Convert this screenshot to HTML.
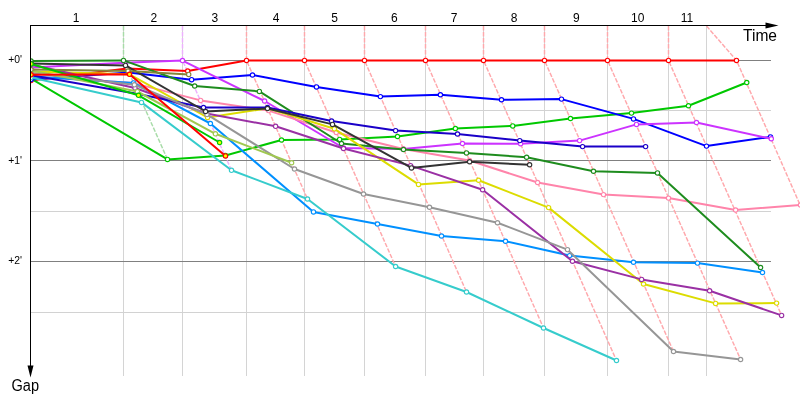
<!DOCTYPE html>
<html><head><meta charset="utf-8"><title>Gap chart</title>
<style>
html,body{margin:0;padding:0;background:#fff;}
svg{display:block;font-family:"Liberation Sans",sans-serif;}
.ln{fill:none;stroke-width:2;stroke-linejoin:round;stroke-linecap:round;}
.mk{fill:#fff;stroke-width:1.15;}
.ds{fill:none;stroke-width:1.45;stroke-dasharray:4.5 1.5;}
</style></head><body>
<svg width="800" height="400" viewBox="0 0 800 400">
<rect width="800" height="400" fill="#fff"/>
<defs><clipPath id="cp"><rect x="31" y="20" width="780" height="380"/></clipPath></defs>

<g shape-rendering="crispEdges" stroke-width="1">
<line x1="123.5" y1="26" x2="123.5" y2="376" stroke="#d4d4d4"/>
<line x1="182.5" y1="26" x2="182.5" y2="376" stroke="#d4d4d4"/>
<line x1="246.5" y1="26" x2="246.5" y2="376" stroke="#d4d4d4"/>
<line x1="304.5" y1="26" x2="304.5" y2="376" stroke="#d4d4d4"/>
<line x1="364.5" y1="26" x2="364.5" y2="376" stroke="#d4d4d4"/>
<line x1="425.5" y1="26" x2="425.5" y2="376" stroke="#d4d4d4"/>
<line x1="483.5" y1="26" x2="483.5" y2="376" stroke="#d4d4d4"/>
<line x1="544.5" y1="26" x2="544.5" y2="376" stroke="#d4d4d4"/>
<line x1="607.5" y1="26" x2="607.5" y2="376" stroke="#d4d4d4"/>
<line x1="668.5" y1="26" x2="668.5" y2="376" stroke="#d4d4d4"/>
<line x1="706.5" y1="26" x2="706.5" y2="376" stroke="#d4d4d4"/>
<line x1="31" y1="60.5" x2="771" y2="60.5" stroke="#808080"/>
<line x1="31" y1="110.5" x2="771" y2="110.5" stroke="#d2d2d2"/>
<line x1="31" y1="160.5" x2="771" y2="160.5" stroke="#808080"/>
<line x1="31" y1="211.5" x2="771" y2="211.5" stroke="#d2d2d2"/>
<line x1="31" y1="261.5" x2="771" y2="261.5" stroke="#808080"/>
<line x1="31" y1="312" x2="771" y2="312" stroke="#d2d2d2"/>
</g>
<g clip-path="url(#cp)">
<polyline class="ds" stroke="#a8dca8" points="123.5,26 123.5,60.4 167.5,159.4"/>
<polyline class="ds" stroke="#eeb0ff" points="182.5,26 182.5,60.4 231.5,170.3"/>
<polyline class="ds" stroke="#ffa8ac" points="246.5,26 246.5,60.4 307.5,199"/>
<polyline class="ds" stroke="#ffa8ac" points="304.5,26 304.5,60.4 395.6,266.5"/>
<polyline class="ds" stroke="#ffa8ac" points="364.5,26 364.5,60.4 466.5,292"/>
<polyline class="ds" stroke="#ffa8ac" points="425.5,26 425.5,60.4 543.5,328"/>
<polyline class="ds" stroke="#ffa8ac" points="483.5,26 483.5,60.4 616.5,360.5"/>
<polyline class="ds" stroke="#ffa8ac" points="544.5,26 544.5,60.4 673.5,351.5"/>
<polyline class="ds" stroke="#ffa8ac" points="607.5,26 607.5,60.4 740.6,359.5"/>
<polyline class="ds" stroke="#ffa8ac" points="668.5,26 668.5,60.4 781.6,315.4"/>
<polyline class="ds" stroke="#ffa8ac" points="706.5,26 736.5,60.4 806.9,220.4"/>
<g stroke="#ff0000"><polyline class="ln" points="31,80.5 127,68.5 187.7,71 246.5,60.4 304.5,60.4 364.5,60.4 425.5,60.4 483.5,60.4 544.5,60.4 607.5,60.4 668.5,60.4 736.5,60.4"/>
<circle class="mk" cx="31" cy="80.5" r="2.15"/>
<circle class="mk" cx="127" cy="68.5" r="2.15"/>
<circle class="mk" cx="187.7" cy="71" r="2.15"/>
<circle class="mk" cx="246.5" cy="60.4" r="2.15"/>
<circle class="mk" cx="304.5" cy="60.4" r="2.15"/>
<circle class="mk" cx="364.5" cy="60.4" r="2.15"/>
<circle class="mk" cx="425.5" cy="60.4" r="2.15"/>
<circle class="mk" cx="483.5" cy="60.4" r="2.15"/>
<circle class="mk" cx="544.5" cy="60.4" r="2.15"/>
<circle class="mk" cx="607.5" cy="60.4" r="2.15"/>
<circle class="mk" cx="668.5" cy="60.4" r="2.15"/>
<circle class="mk" cx="736.5" cy="60.4" r="2.15"/>
</g>
<g stroke="#00c800"><polyline class="ln" points="31,78.6 167.5,159.4 225.5,155.5 281.5,140 339.6,139.4 397.5,136.5 455.4,128.5 512.75,125.9 570.5,118.5 631.5,113.1 688.5,105.75 746.75,82.5"/>
<circle class="mk" cx="31" cy="78.6" r="2.15"/>
<circle class="mk" cx="167.5" cy="159.4" r="2.15"/>
<circle class="mk" cx="225.5" cy="155.5" r="2.15"/>
<circle class="mk" cx="281.5" cy="140" r="2.15"/>
<circle class="mk" cx="339.6" cy="139.4" r="2.15"/>
<circle class="mk" cx="397.5" cy="136.5" r="2.15"/>
<circle class="mk" cx="455.4" cy="128.5" r="2.15"/>
<circle class="mk" cx="512.75" cy="125.9" r="2.15"/>
<circle class="mk" cx="570.5" cy="118.5" r="2.15"/>
<circle class="mk" cx="631.5" cy="113.1" r="2.15"/>
<circle class="mk" cx="688.5" cy="105.75" r="2.15"/>
<circle class="mk" cx="746.75" cy="82.5" r="2.15"/>
</g>
<g stroke="#0000ff"><polyline class="ln" points="31,79.6 128.7,72.4 191.6,79.7 252.5,75 316.5,86.9 380.4,96.6 440.4,94.75 501.5,99.75 561.5,99.1 633.5,118.9 706.5,146.1 770.5,136.9"/>
<circle class="mk" cx="31" cy="79.6" r="2.15"/>
<circle class="mk" cx="128.7" cy="72.4" r="2.15"/>
<circle class="mk" cx="191.6" cy="79.7" r="2.15"/>
<circle class="mk" cx="252.5" cy="75" r="2.15"/>
<circle class="mk" cx="316.5" cy="86.9" r="2.15"/>
<circle class="mk" cx="380.4" cy="96.6" r="2.15"/>
<circle class="mk" cx="440.4" cy="94.75" r="2.15"/>
<circle class="mk" cx="501.5" cy="99.75" r="2.15"/>
<circle class="mk" cx="561.5" cy="99.1" r="2.15"/>
<circle class="mk" cx="633.5" cy="118.9" r="2.15"/>
<circle class="mk" cx="706.5" cy="146.1" r="2.15"/>
<circle class="mk" cx="770.5" cy="136.9" r="2.15"/>
</g>
<g stroke="#cc33ff"><polyline class="ln" points="31,67.5 124.5,62.8 182.5,60.6 264.6,101 343.5,148 403.3,149 462.5,143.5 520.6,143.75 579.6,140.6 636.5,124.4 696.5,122.5 771.3,138.75"/>
<circle class="mk" cx="31" cy="67.5" r="2.15"/>
<circle class="mk" cx="124.5" cy="62.8" r="2.15"/>
<circle class="mk" cx="182.5" cy="60.6" r="2.15"/>
<circle class="mk" cx="264.6" cy="101" r="2.15"/>
<circle class="mk" cx="343.5" cy="148" r="2.15"/>
<circle class="mk" cx="403.3" cy="149" r="2.15"/>
<circle class="mk" cx="462.5" cy="143.5" r="2.15"/>
<circle class="mk" cx="520.6" cy="143.75" r="2.15"/>
<circle class="mk" cx="579.6" cy="140.6" r="2.15"/>
<circle class="mk" cx="636.5" cy="124.4" r="2.15"/>
<circle class="mk" cx="696.5" cy="122.5" r="2.15"/>
<circle class="mk" cx="771.3" cy="138.75" r="2.15"/>
</g>
<g stroke="#ff84aa"><polyline class="ln" points="31,76.2 133.6,83.1 200.6,100.4 268.5,110.6 336.3,132.5 403.3,149 469.5,160.5 537.6,182.5 603.5,194.6 668.5,198.1 735.6,210 800.5,205"/>
<circle class="mk" cx="31" cy="76.2" r="2.15"/>
<circle class="mk" cx="133.6" cy="83.1" r="2.15"/>
<circle class="mk" cx="200.6" cy="100.4" r="2.15"/>
<circle class="mk" cx="268.5" cy="110.6" r="2.15"/>
<circle class="mk" cx="336.3" cy="132.5" r="2.15"/>
<circle class="mk" cx="403.3" cy="149" r="2.15"/>
<circle class="mk" cx="469.5" cy="160.5" r="2.15"/>
<circle class="mk" cx="537.6" cy="182.5" r="2.15"/>
<circle class="mk" cx="603.5" cy="194.6" r="2.15"/>
<circle class="mk" cx="668.5" cy="198.1" r="2.15"/>
<circle class="mk" cx="735.6" cy="210" r="2.15"/>
<circle class="mk" cx="800.5" cy="205" r="2.15"/>
</g>
<g stroke="#1e8c1e"><polyline class="ln" points="31,61 123.5,60.4 194.7,86 259.4,91.4 341.5,143.5 403.5,149.5 466.5,152.9 526.6,157.25 593.5,171.25 657.5,172.9 760.6,267.5"/>
<circle class="mk" cx="31" cy="61" r="2.15"/>
<circle class="mk" cx="123.5" cy="60.4" r="2.15"/>
<circle class="mk" cx="194.7" cy="86" r="2.15"/>
<circle class="mk" cx="259.4" cy="91.4" r="2.15"/>
<circle class="mk" cx="341.5" cy="143.5" r="2.15"/>
<circle class="mk" cx="403.5" cy="149.5" r="2.15"/>
<circle class="mk" cx="466.5" cy="152.9" r="2.15"/>
<circle class="mk" cx="526.6" cy="157.25" r="2.15"/>
<circle class="mk" cx="593.5" cy="171.25" r="2.15"/>
<circle class="mk" cx="657.5" cy="172.9" r="2.15"/>
<circle class="mk" cx="760.6" cy="267.5" r="2.15"/>
</g>
<g stroke="#0090ff"><polyline class="ln" points="31,76.6 133.6,82.9 210.4,123.5 313.5,211.9 377.5,224 441.5,236 505.5,241.25 569.6,255.6 633.5,262.25 697.5,263.1 762.5,272.5"/>
<circle class="mk" cx="31" cy="76.6" r="2.15"/>
<circle class="mk" cx="133.6" cy="82.9" r="2.15"/>
<circle class="mk" cx="210.4" cy="123.5" r="2.15"/>
<circle class="mk" cx="313.5" cy="211.9" r="2.15"/>
<circle class="mk" cx="377.5" cy="224" r="2.15"/>
<circle class="mk" cx="441.5" cy="236" r="2.15"/>
<circle class="mk" cx="505.5" cy="241.25" r="2.15"/>
<circle class="mk" cx="569.6" cy="255.6" r="2.15"/>
<circle class="mk" cx="633.5" cy="262.25" r="2.15"/>
<circle class="mk" cx="697.5" cy="263.1" r="2.15"/>
<circle class="mk" cx="762.5" cy="272.5" r="2.15"/>
</g>
<g stroke="#dcdc00"><polyline class="ln" points="31,71.4 129.5,74.3 207.5,117.5 267.5,108.3 334.4,128.8 418.5,184.4 478.6,180.2 548.6,207.6 643.5,284 715.6,303.4 776.6,303.1"/>
<circle class="mk" cx="31" cy="71.4" r="2.15"/>
<circle class="mk" cx="129.5" cy="74.3" r="2.15"/>
<circle class="mk" cx="207.5" cy="117.5" r="2.15"/>
<circle class="mk" cx="267.5" cy="108.3" r="2.15"/>
<circle class="mk" cx="334.4" cy="128.8" r="2.15"/>
<circle class="mk" cx="418.5" cy="184.4" r="2.15"/>
<circle class="mk" cx="478.6" cy="180.2" r="2.15"/>
<circle class="mk" cx="548.6" cy="207.6" r="2.15"/>
<circle class="mk" cx="643.5" cy="284" r="2.15"/>
<circle class="mk" cx="715.6" cy="303.4" r="2.15"/>
<circle class="mk" cx="776.6" cy="303.1" r="2.15"/>
</g>
<g stroke="#9a30a4"><polyline class="ln" points="31,64.6 135,88 206.5,113.5 275.6,126.3 343.5,148.5 410.6,165.6 482.6,189.75 572.5,261.25 641.6,279.4 709.6,290.8 781.6,315.4"/>
<circle class="mk" cx="31" cy="64.6" r="2.15"/>
<circle class="mk" cx="135" cy="88" r="2.15"/>
<circle class="mk" cx="206.5" cy="113.5" r="2.15"/>
<circle class="mk" cx="275.6" cy="126.3" r="2.15"/>
<circle class="mk" cx="343.5" cy="148.5" r="2.15"/>
<circle class="mk" cx="410.6" cy="165.6" r="2.15"/>
<circle class="mk" cx="482.6" cy="189.75" r="2.15"/>
<circle class="mk" cx="572.5" cy="261.25" r="2.15"/>
<circle class="mk" cx="641.6" cy="279.4" r="2.15"/>
<circle class="mk" cx="709.6" cy="290.8" r="2.15"/>
<circle class="mk" cx="781.6" cy="315.4" r="2.15"/>
</g>
<g stroke="#1a00c8"><polyline class="ln" points="31,75.2 138.3,94 203.5,107.5 267.5,107.5 331.6,121 395.6,130.6 457.5,134 519.75,140.6 582.6,146.6 645.6,146.6"/>
<circle class="mk" cx="31" cy="75.2" r="2.15"/>
<circle class="mk" cx="138.3" cy="94" r="2.15"/>
<circle class="mk" cx="203.5" cy="107.5" r="2.15"/>
<circle class="mk" cx="267.5" cy="107.5" r="2.15"/>
<circle class="mk" cx="331.6" cy="121" r="2.15"/>
<circle class="mk" cx="395.6" cy="130.6" r="2.15"/>
<circle class="mk" cx="457.5" cy="134" r="2.15"/>
<circle class="mk" cx="519.75" cy="140.6" r="2.15"/>
<circle class="mk" cx="582.6" cy="146.6" r="2.15"/>
<circle class="mk" cx="645.6" cy="146.6" r="2.15"/>
</g>
<g stroke="#969696"><polyline class="ln" points="31,73 134.4,84.8 206.9,114.4 294.5,169 363.5,194 429.5,207.25 497.5,222.75 567.5,249.6 673.5,351.5 740.6,359.5"/>
<circle class="mk" cx="31" cy="73" r="2.15"/>
<circle class="mk" cx="134.4" cy="84.8" r="2.15"/>
<circle class="mk" cx="206.9" cy="114.4" r="2.15"/>
<circle class="mk" cx="294.5" cy="169" r="2.15"/>
<circle class="mk" cx="363.5" cy="194" r="2.15"/>
<circle class="mk" cx="429.5" cy="207.25" r="2.15"/>
<circle class="mk" cx="497.5" cy="222.75" r="2.15"/>
<circle class="mk" cx="567.5" cy="249.6" r="2.15"/>
<circle class="mk" cx="673.5" cy="351.5" r="2.15"/>
<circle class="mk" cx="740.6" cy="359.5" r="2.15"/>
</g>
<g stroke="#333333"><polyline class="ln" points="31,63.4 125.5,65.4 205.6,111.5 267.5,108.5 332.5,124.4 411.5,167.9 469.6,161.7 529.6,164.75"/>
<circle class="mk" cx="31" cy="63.4" r="2.15"/>
<circle class="mk" cx="125.5" cy="65.4" r="2.15"/>
<circle class="mk" cx="205.6" cy="111.5" r="2.15"/>
<circle class="mk" cx="267.5" cy="108.5" r="2.15"/>
<circle class="mk" cx="332.5" cy="124.4" r="2.15"/>
<circle class="mk" cx="411.5" cy="167.9" r="2.15"/>
<circle class="mk" cx="469.6" cy="161.7" r="2.15"/>
<circle class="mk" cx="529.6" cy="164.75" r="2.15"/>
</g>
<g stroke="#36cccc"><polyline class="ln" points="31,77.6 141.5,102.4 231.5,170.3 307.5,199 395.6,266.5 466.5,292 543.5,328 616.5,360.5"/>
<circle class="mk" cx="31" cy="77.6" r="2.15"/>
<circle class="mk" cx="141.5" cy="102.4" r="2.15"/>
<circle class="mk" cx="231.5" cy="170.3" r="2.15"/>
<circle class="mk" cx="307.5" cy="199" r="2.15"/>
<circle class="mk" cx="395.6" cy="266.5" r="2.15"/>
<circle class="mk" cx="466.5" cy="292" r="2.15"/>
<circle class="mk" cx="543.5" cy="328" r="2.15"/>
<circle class="mk" cx="616.5" cy="360.5" r="2.15"/>
</g>
<g stroke="#a0c850"><polyline class="ln" points="31,70.5 137.4,91.5 215.4,133.8 291.6,162.75"/>
<circle class="mk" cx="31" cy="70.5" r="2.15"/>
<circle class="mk" cx="137.4" cy="91.5" r="2.15"/>
<circle class="mk" cx="215.4" cy="133.8" r="2.15"/>
<circle class="mk" cx="291.6" cy="162.75" r="2.15"/>
</g>
<g stroke="#84843a"><polyline class="ln" points="31,69.5 128,71 188.7,74.4"/>
<circle class="mk" cx="31" cy="69.5" r="2.15"/>
<circle class="mk" cx="128" cy="71" r="2.15"/>
<circle class="mk" cx="188.7" cy="74.4" r="2.15"/>
</g>
<g stroke="#00c800"><polyline class="ln" points="31,63.9 138.5,95.3 219.6,142.5"/>
<circle class="mk" cx="31" cy="63.9" r="2.15" style="fill:#ffff00"/>
<circle class="mk" cx="138.5" cy="95.3" r="2.15" style="fill:#ffff00"/>
<circle class="mk" cx="219.6" cy="142.5" r="2.15" style="fill:#ffff00"/>
</g>
<g stroke="#ff0000"><polyline class="ln" points="31,74.75 129.5,74.3 225.5,155.9"/>
<circle class="mk" cx="31" cy="74.75" r="2.15" style="fill:#ffff00"/>
<circle class="mk" cx="129.5" cy="74.3" r="2.15" style="fill:#ffff00"/>
<circle class="mk" cx="225.5" cy="155.9" r="2.15" style="fill:#ffff00"/>
</g>
</g>
<g shape-rendering="crispEdges" stroke="#000" stroke-width="1"><line x1="30.5" y1="25" x2="30.5" y2="367"/><line x1="30" y1="25.5" x2="767" y2="25.5"/></g>
<polygon points="27.5,365.5 33.5,365.5 30.5,377.5" fill="#000"/>
<polygon points="765.5,22.5 765.5,28.5 778.5,25.5" fill="#000"/>
<g font-size="12" text-anchor="middle" fill="#000">
<text x="76" y="22">1</text>
<text x="153.8" y="22">2</text>
<text x="214.8" y="22">3</text>
<text x="276" y="22">4</text>
<text x="334.5" y="22">5</text>
<text x="394.4" y="22">6</text>
<text x="454" y="22">7</text>
<text x="514.2" y="22">8</text>
<text x="576.3" y="22">9</text>
<text x="637.8" y="22">10</text>
<text x="687" y="22">11</text>
</g>
<g font-size="10" fill="#000">
<text x="8.2" y="63" textLength="13.8" lengthAdjust="spacingAndGlyphs">+0'</text>
<text x="8.2" y="163.8" textLength="13.8" lengthAdjust="spacingAndGlyphs">+1'</text>
<text x="8.2" y="264" textLength="13.8" lengthAdjust="spacingAndGlyphs">+2'</text>
</g>
<text x="743" y="40.8" font-size="16" textLength="34" lengthAdjust="spacingAndGlyphs" fill="#000">Time</text>
<text x="11.5" y="390.6" font-size="16" textLength="27.5" lengthAdjust="spacingAndGlyphs" fill="#000">Gap</text>
</svg></body></html>
